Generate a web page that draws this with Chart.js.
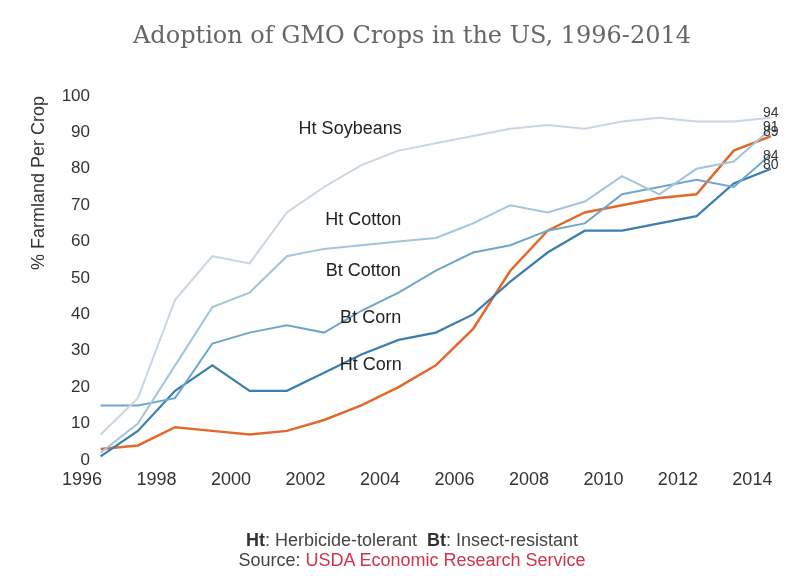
<!DOCTYPE html>
<html>
<head>
<meta charset="utf-8">
<script src="https://cdn.jsdelivr.net/npm/chart.js@4.4.1/dist/chart.umd.min.js"></script>
<style>
  html, body { margin: 0; padding: 0; background: #fff; }
  #wrap { position: relative; width: 800px; height: 576px; }
  #title {
    position: absolute; left: 12px; top: 21px; width: 800px; text-align: center;
    font-family: 'DejaVu Serif', serif; font-size: 24px; color: #666;
  }
  #notes {
    position: absolute; left: 12px; top: 530px; width: 800px; text-align: center;
    font-family: 'Liberation Sans', Arial, sans-serif; font-size: 18px; color: #444; line-height: 20px;
  }
  #notes b { color: #333; }
  #notes .src { color: #d0344a; }
</style>
</head>
<body>
<div id="wrap">
  <canvas id="gmoChart" width="800" height="576"></canvas>
  <div id="title">Adoption of GMO Crops in the US, 1996-2014</div>
  <div id="notes">
    <div><b>Ht</b>: Herbicide-tolerant&nbsp;&nbsp;<b>Bt</b>: Insect-resistant</div>
    <div>Source: <span class="src">USDA Economic Research Service</span></div>
  </div>
</div>
<script>
// ── data (USDA ERS, % of planted acres) ──
const years = [1996, 1997, 1998, 1999, 2000, 2001, 2002, 2003, 2004, 2005,
               2006, 2007, 2008, 2009, 2010, 2011, 2012, 2013, 2014];

const htSoybeans = [7, 17, 44, 56, 54, 68, 75, 81, 85, 87, 89, 91, 92, 91, 93, 94, 93, 93, 94];
const htCotton   = [2, 10, 26, 42, 46, 56, 58, 59, 60, 61, 65, 70, 68, 71, 78, 73, 80, 82, 91];
const btCotton   = [15, 15, 17, 32, 35, 37, 35, 41, 46, 52, 57, 59, 63, 65, 73, 75, 77, 75, 84];
const btCorn     = [1, 8, 19, 26, 19, 19, 24, 29, 33, 35, 40, 49, 57, 63, 63, 65, 67, 76, 80];
const htCorn     = [3, 4, 9, 8, 7, 8, 11, 15, 20, 26, 36, 52, 63, 68, 70, 72, 73, 85, 89];

const tickYears = [1996, 1998, 2000, 2002, 2004, 2006, 2008, 2010, 2012, 2014];

// in-plot labels, placed in data units (year, %)
const seriesLabels = [
  { text: 'Ht Soybeans', x: 2003.2,  y: 91 },
  { text: 'Ht Cotton',   x: 2003.55, y: 66 },
  { text: 'Bt Cotton',   x: 2003.55, y: 52 },
  { text: 'Bt Corn',     x: 2003.75, y: 39 },
  { text: 'Ht Corn',     x: 2003.75, y: 26 },
];

// vertical nudge (px) of the end-value labels so they don't collide
const endNudge = [-5, -2, 2, -4, -4];

const FONT = "'Liberation Sans', Arial, sans-serif";

// each year's value is plotted at mid-year
const pts = (vals) => vals.map((v, i) => ({ x: years[i] + 0.5, y: v }));

const line = (label, vals, color, width) => ({
  label,
  data: pts(vals),
  borderColor: color,
  borderWidth: width,
  pointRadius: 0,
  tension: 0,
  fill: false,
});

// ── text labels drawn on top of the lines ──
const labelPlugin = {
  id: 'labels',
  afterDatasetsDraw(chart) {
    const { ctx, scales: { x, y } } = chart;
    ctx.save();
    ctx.fillStyle = '#222';
    ctx.font = '18px ' + FONT;
    ctx.textAlign = 'center';
    ctx.textBaseline = 'middle';
    seriesLabels.forEach(l => ctx.fillText(l.text, x.getPixelForValue(l.x), y.getPixelForValue(l.y)));

    // end values
    ctx.font = '14px ' + FONT;
    ctx.textAlign = 'left';
    ctx.fillStyle = '#333';
    chart.data.datasets.forEach((ds, i) => {
      const last = ds.data[ds.data.length - 1];
      ctx.fillText(String(last.y), x.getPixelForValue(last.x) - 8, y.getPixelForValue(last.y) + endNudge[i]);
    });

    // y tick labels: they reach a little into the plot, past the axis box
    ctx.font = '17px ' + FONT;
    ctx.textAlign = 'right';
    ctx.fillStyle = '#333';
    y.ticks.forEach(t => ctx.fillText(String(t.value), y.right + 8, y.getPixelForValue(t.value)));
    ctx.restore();
  },
};

new Chart(document.getElementById('gmoChart'), {
  type: 'line',
  data: {
    datasets: [
      line('Ht Soybeans', htSoybeans, '#c9d6e2', 2),
      line('Ht Cotton',   htCotton,   '#a2c5dc', 2),
      line('Bt Cotton',   btCotton,   '#6ea6cc', 2),
      line('Bt Corn',     btCorn,     '#3a7fae', 2.2),
      line('Ht Corn',     htCorn,     '#e2692a', 2.5),
    ],
  },
  options: {
    responsive: false,
    animation: false,
    layout: { padding: { left: 28, right: 29, top: 96, bottom: 80 } },
    plugins: {
      legend: { display: false },
      tooltip: { enabled: false },
    },
    scales: {
      x: {
        type: 'linear',
        min: 1996,
        max: 2014.5,
        afterBuildTicks: (scale) => { scale.ticks = tickYears.map(v => ({ value: v })); },
        afterFit: (scale) => { scale.height = 36; },
        grid: { display: false, drawTicks: false },
        border: { display: false },
        ticks: {
          color: '#333',
          padding: 9,
          maxRotation: 0,
          font: { family: FONT, size: 18 },
          callback: (v) => String(v),
        },
      },
      y: {
        min: 0,
        max: 100,
        afterFit: (scale) => { scale.width = 54; },
        grid: { display: false, drawTicks: false },
        border: { display: false },
        ticks: {
          stepSize: 10,
          color: 'rgba(0,0,0,0)',
          font: { family: FONT, size: 17 },
        },
        title: {
          display: true,
          text: '% Farmland Per Crop',
          align: 'end',
          color: '#333',
          padding: 0,
          font: { family: FONT, size: 18 },
        },
      },
    },
  },
  plugins: [labelPlugin],
});
</script>
</body>
</html>
